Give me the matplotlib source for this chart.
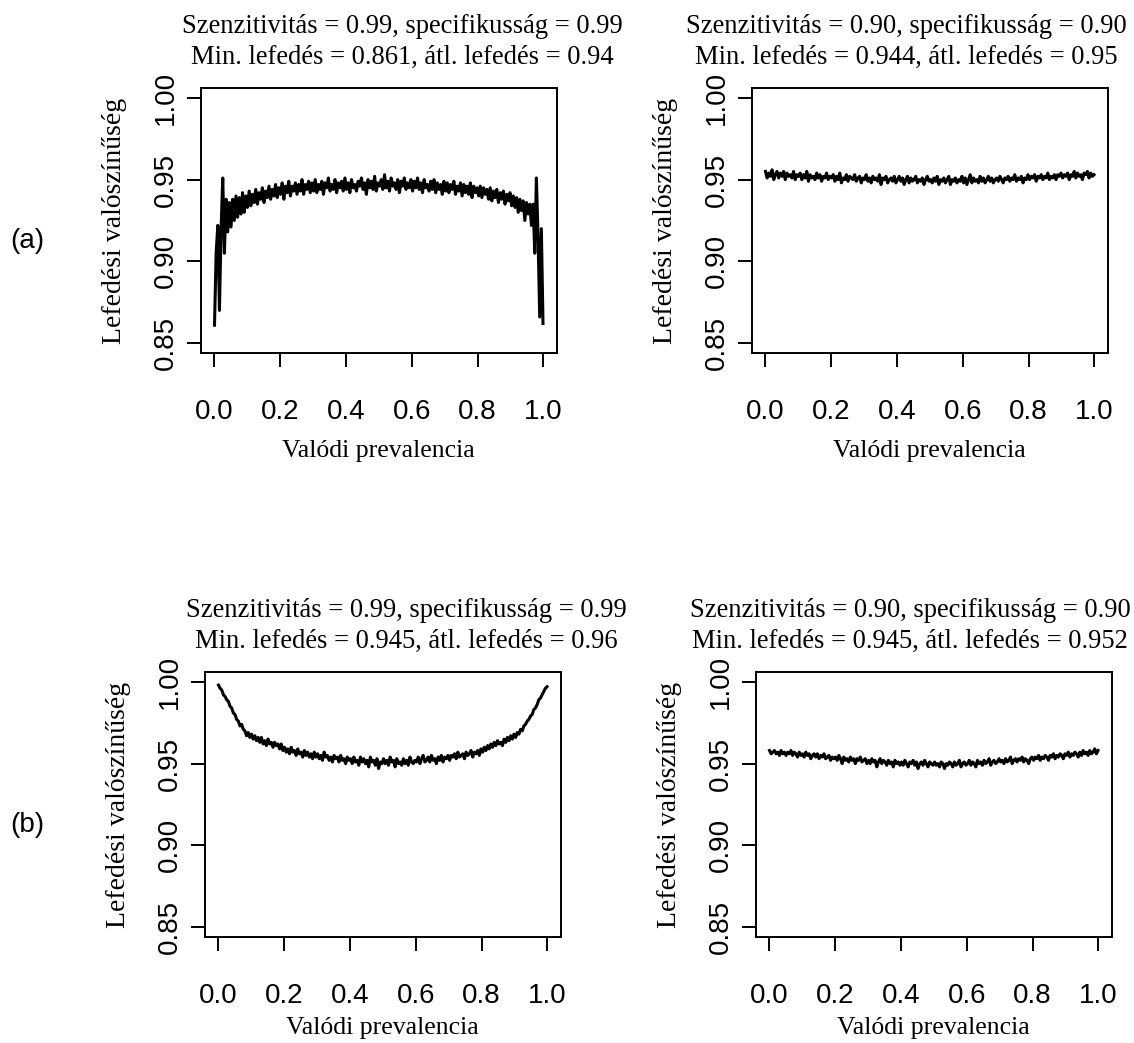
import matplotlib
matplotlib.use("Agg")
import matplotlib.pyplot as plt
import numpy as np

# figure size in pixels (dpi 100)
W, H = 1134, 1043

# --- data (coverage values in thousandths, prevalence grid 0.001 .. 0.999) ---
n_points = 200
prevalence = np.linspace(0.001, 0.999, n_points)

cov_a_left = [
    861, 905, 922, 870, 920, 951, 905, 938, 918, 936, 921, 938, 925, 940, 927, 939, 929, 942, 930, 940,
    933, 943, 934, 941, 936, 944, 935, 942, 938, 945, 936, 943, 939, 946, 938, 944, 940, 947, 939, 945,
    941, 948, 938, 946, 942, 949, 940, 946, 943, 948, 941, 947, 943, 950, 941, 947, 944, 949, 942, 948,
    943, 950, 942, 947, 944, 949, 941, 948, 945, 951, 943, 947, 944, 950, 942, 948, 945, 949, 943, 951,
    944, 948, 942, 950, 945, 947, 943, 949, 946, 951, 944, 948, 941, 950, 945, 949, 944, 952, 943, 948,
    946, 950, 944, 953, 945, 949, 943, 951, 946, 948, 944, 950, 942, 949, 946, 951, 944, 948, 945, 950,
    943, 949, 945, 951, 944, 948, 942, 950, 945, 947, 943, 949, 944, 950, 942, 948, 944, 947, 941, 949,
    943, 948, 942, 947, 944, 949, 941, 946, 943, 948, 940, 947, 942, 946, 941, 948, 939, 946, 942, 945,
    940, 946, 939, 945, 941, 944, 938, 945, 937, 943, 939, 944, 936, 942, 938, 943, 935, 941, 937, 942,
    934, 940, 933, 939, 930, 938, 931, 937, 925, 936, 929, 935, 922, 935, 905, 951, 915, 866, 920, 862,
]

cov_a_right = [
    955, 951, 954, 952, 956, 950, 953, 955, 951, 954, 952, 955, 950, 954, 952, 953, 951, 955, 950, 953,
    952, 954, 950, 953, 951, 955, 949, 953, 951, 952, 950, 954, 951, 953, 949, 952, 951, 954, 950, 952,
    951, 953, 949, 952, 950, 954, 948, 951, 950, 953, 949, 952, 951, 950, 953, 949, 951, 952, 948, 951,
    950, 953, 949, 951, 948, 952, 950, 951, 949, 953, 947, 951, 950, 952, 948, 950, 951, 949, 952, 948,
    950, 952, 949, 951, 947, 950, 952, 948, 951, 949, 950, 952, 948, 950, 949, 951, 947, 950, 952, 949,
    950, 948, 951, 949, 952, 947, 950, 949, 951, 948, 950, 952, 947, 950, 949, 951, 948, 950, 949, 952,
    948, 951, 947, 950, 953, 948, 951, 949, 950, 948, 952, 949, 951, 948, 950, 952, 949, 951, 948, 950,
    951, 949, 952, 950, 948, 951, 950, 952, 949, 951, 950, 953, 949, 951, 950, 952, 948, 951, 950, 953,
    950, 952, 951, 953, 949, 952, 951, 953, 950, 952, 951, 954, 950, 952, 951, 953, 950, 953, 952, 954,
    951, 953, 952, 954, 950, 953, 952, 955, 951, 954, 952, 953, 950, 954, 953, 955, 951, 954, 952, 953,
]

cov_b_left = [
    998, 996, 995, 992, 991, 989, 988, 985, 984, 981, 980, 977, 976, 973, 974, 971, 970, 967, 969, 966,
    968, 965, 967, 964, 966, 963, 966, 962, 964, 961, 965, 962, 963, 960, 963, 961, 962, 959, 962, 958,
    960, 957, 959, 956, 960, 957, 958, 955, 959, 956, 957, 954, 958, 955, 957, 954, 956, 953, 957, 954,
    956, 953, 955, 952, 957, 954, 955, 952, 954, 951, 955, 953, 954, 951, 955, 952, 953, 950, 954, 952,
    953, 950, 954, 951, 952, 949, 954, 951, 953, 950, 952, 948, 954, 951, 952, 949, 953, 947, 951, 950,
    953, 950, 952, 949, 954, 951, 952, 948, 953, 950, 951, 949, 953, 950, 952, 949, 954, 951, 950, 952,
    951, 954, 950, 953, 955, 951, 952, 954, 951, 955, 952, 953, 950, 954, 952, 955, 951, 954, 953, 955,
    952, 955, 954, 956, 953, 957, 954, 955, 956, 953, 957, 955, 956, 958, 954, 957, 956, 958, 955, 959,
    957, 960, 958, 961, 959, 962, 960, 963, 961, 964, 962, 963, 961, 965, 963, 966, 964, 967, 965, 968,
    966, 969, 968, 971, 970, 973, 974, 976, 977, 979, 980, 983, 984, 986, 989, 990, 992, 994, 996, 997,
]

cov_b_right = [
    958, 956, 957, 958, 956, 957, 955, 958, 956, 957, 955, 957, 956, 958, 955, 957, 956, 954, 957, 955,
    956, 954, 957, 955, 956, 953, 955, 956, 954, 956, 953, 955, 954, 956, 953, 954, 955, 952, 954, 953,
    954, 952, 955, 953, 950, 954, 952, 953, 951, 954, 952, 953, 950, 953, 952, 954, 951, 952, 953, 950,
    952, 950, 953, 951, 952, 948, 951, 953, 950, 952, 951, 949, 952, 950, 951, 948, 952, 950, 951, 949,
    951, 949, 952, 950, 948, 951, 950, 952, 949, 951, 947, 950, 951, 949, 952, 950, 948, 951, 950, 949,
    951, 949, 950, 948, 951, 950, 947, 950, 949, 951, 950, 948, 951, 949, 950, 952, 948, 950, 951, 949,
    950, 952, 949, 951, 950, 948, 952, 950, 951, 949, 952, 950, 951, 953, 949, 951, 952, 950, 951, 953,
    951, 952, 950, 953, 951, 952, 954, 950, 952, 953, 951, 953, 952, 954, 951, 953, 952, 950, 953, 954,
    952, 954, 953, 955, 952, 954, 953, 955, 954, 952, 955, 954, 956, 953, 955, 954, 956, 955, 953, 956,
    955, 957, 954, 956, 955, 957, 956, 954, 957, 955, 958, 956, 957, 955, 958, 956, 957, 959, 956, 958,
]

titles = [
    ("Szenzitivitás = 0.99, specifikusság = 0.99", "Min. lefedés = 0.861, átl. lefedés = 0.94"),
    ("Szenzitivitás = 0.90, specifikusság = 0.90", "Min. lefedés = 0.944, átl. lefedés = 0.95"),
    ("Szenzitivitás = 0.99, specifikusság = 0.99", "Min. lefedés = 0.945, átl. lefedés = 0.96"),
    ("Szenzitivitás = 0.90, specifikusság = 0.90", "Min. lefedés = 0.945, átl. lefedés = 0.952"),
]
series = [cov_a_left, cov_a_right, cov_b_left, cov_b_right]
row_labels = ["(a)", "(b)"]

x_ticks = [0.0, 0.2, 0.4, 0.6, 0.8, 1.0]
x_ticklabels = ["0.0", "0.2", "0.4", "0.6", "0.8", "1.0"]
y_ticks = [0.85, 0.90, 0.95, 1.00]
y_ticklabels = ["0.85", "0.90", "0.95", "1.00"]

# --- layout (pixel boxes: left, top; fixed width/height) ---
boxes = [(201, 88), (752, 88), (205, 672), (756, 672)]
box_w, box_h = 355.5, 265
title_cx = [402, 906, 406, 910]
title_base = [(33, 64), (33, 64), (617, 648), (617, 648)]
xlabel_y = [-0.37, -0.37, -0.342, -0.342]

SERIF = "Liberation Serif"
SANS = "Liberation Sans"

fig = plt.figure(figsize=(W / 100, H / 100), dpi=100)
fig.patch.set_facecolor("white")

for k, ((left, top), vals) in enumerate(zip(boxes, series)):
    ax = fig.add_axes([left / W, 1 - (top + box_h) / H, box_w / W, box_h / H])
    ax.plot(prevalence, np.array(vals) / 1000.0, color="black", linewidth=2.2)
    ax.set_xlim(-0.04, 1.04)
    ax.set_ylim(0.844, 1.006)

    ax.set_xticks(x_ticks)
    ax.set_xticklabels(x_ticklabels, family=SANS, fontsize=20)
    ax.set_yticks(y_ticks)
    ax.set_yticklabels(y_ticklabels, family=SANS, fontsize=20, rotation=90, va="center")
    ax.tick_params(axis="x", direction="out", length=10, width=1.4, pad=23)
    ax.tick_params(axis="y", direction="out", length=10, width=1.4, pad=6)
    for sp in ax.spines.values():
        sp.set_linewidth(1.4)

    ax.set_xlabel("Valódi prevalencia", family=SERIF, fontsize=18.5, va="center")
    ax.xaxis.set_label_coords(0.5, xlabel_y[k])
    ax.set_ylabel("Lefedési valószínűség", family=SERIF, fontsize=20, va="center")
    ax.yaxis.set_label_coords(-0.243, 0.5)

    # two-line title
    for line, base in zip(titles[k], title_base[k]):
        fig.text(title_cx[k] / W, 1 - base / H, line, family=SERIF, fontsize=19.1,
                 ha="center", va="baseline")

# row labels
fig.text(27 / W, 1 - 241 / H, row_labels[0], family=SANS, fontsize=20, ha="center", va="center")
fig.text(27 / W, 1 - 825 / H, row_labels[1], family=SANS, fontsize=20, ha="center", va="center")

fig.savefig("out.png", dpi=100)
